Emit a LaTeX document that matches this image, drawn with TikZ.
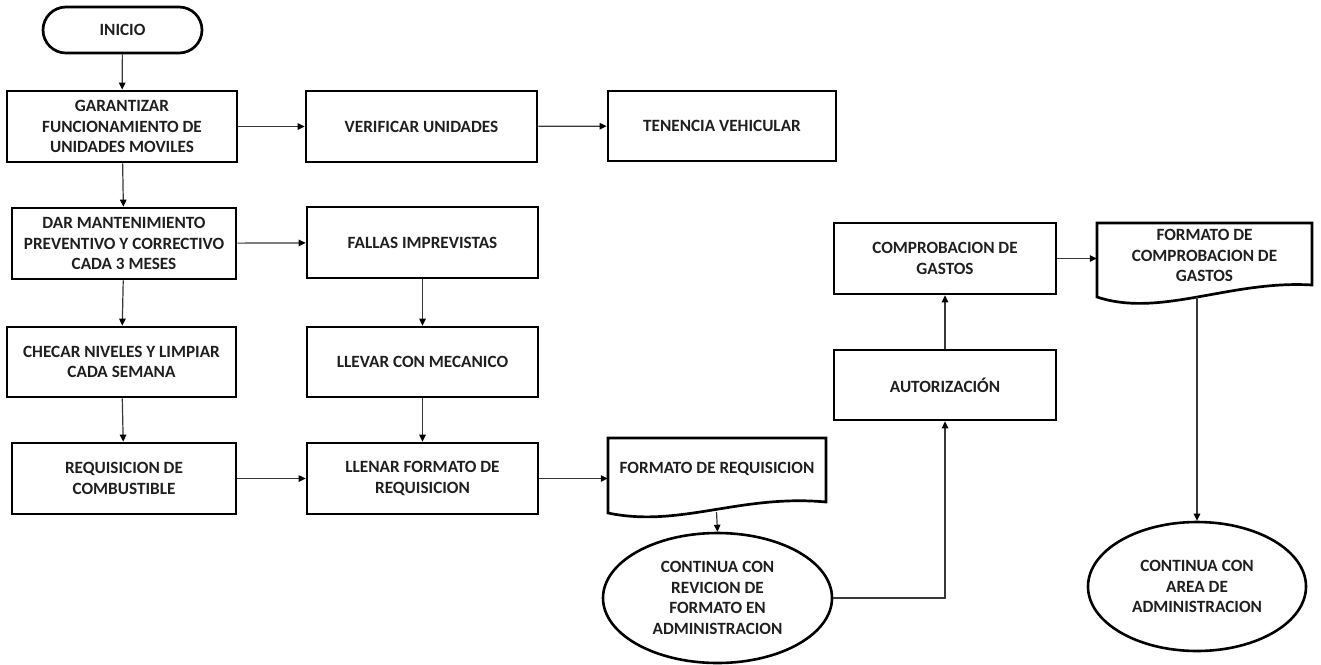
\documentclass[tikz,border=0pt]{standalone}
\usepackage{fontspec}
\setmainfont{Carlito}
\usetikzlibrary{shapes.geometric,arrows.meta}

\begin{document}
\begin{tikzpicture}[x=1pt,y=-1pt,
  txt/.style={font=\fontsize{17.2}{20.7}\selectfont\bfseries, text=black!88, align=center, inner sep=0pt},
  box/.style n args={2}{txt, draw=black, line width=2.7pt, rectangle,
    minimum width=#1, minimum height=#2},
  terminal/.style n args={2}{box={#1}{#2}, rounded corners=23pt},
  oval/.style n args={2}{txt, draw=black, line width=2.6pt, ellipse,
    minimum width=#1, minimum height=#2},
  docline/.style={draw=black, line width=2.7pt, line join=miter},
  conn/.style={draw=black!78, line width=1.2pt,
    -{Triangle[length=7pt,width=6.5pt,color=black]}}
]
\useasboundingbox (0,0) rectangle (1321,664);

% ---- process column 1 ----
\node[terminal={159}{46}] (inicio) at (122.5,30) {INICIO};
\node[box={230}{71}] (garant) at (122,126.5)
  {GARANTIZAR\\FUNCIONAMIENTO DE\\UNIDADES MOVILES};
\node[box={224}{71}] (dar) at (124,243.5)
  {DAR MANTENIMIENTO\\PREVENTIVO Y CORRECTIVO\\CADA 3 MESES};
\node[box={229}{70}] (checar) at (121.5,362)
  {CHECAR NIVELES Y LIMPIAR\\CADA SEMANA};
\node[box={224}{71}] (req) at (124,478.5)
  {REQUISICION DE\\COMBUSTIBLE};

% ---- process column 2 ----
\node[box={231}{71}] (verif) at (421.5,126.5) {VERIFICAR UNIDADES};
\node[box={231}{71}] (fallas) at (422.5,242.5) {FALLAS IMPREVISTAS};
\node[box={231}{70}] (llevar) at (422.5,362) {LLEVAR CON MECANICO};
\node[box={231}{71}] (llenar) at (422.5,478.5)
  {LLENAR FORMATO DE\\REQUISICION};

% ---- column 3 ----
\node[box={228}{70}] (tenen) at (722,126) {TENENCIA VEHICULAR};

% document: requisition form
\node[txt, minimum width=218pt] (fmtreq) at (717,469) {FORMATO DE REQUISICION};
\draw[docline] (608,438) -- (826,438) -- (826,502)
  .. controls (740,494) and (680,528) .. (608,513) -- cycle;
\coordinate (fmtreqout) at (716.5,512);

\node[oval={229}{130}] (rev) at (717.5,598)
  {CONTINUA CON\\REVICION DE\\FORMATO EN\\ADMINISTRACION};

% ---- column 4 ----
\node[box={222}{70}] (autoriz) at (945,385) {AUTORIZACIÓN};
\node[box={222}{71}] (comprob) at (945,258.5) {COMPROBACION DE\\GASTOS};

% ---- column 5 ----
\node[txt, minimum width=215pt] (fmtcomp) at (1204.5,255.5)
  {FORMATO DE\\COMPROBACION DE\\GASTOS};
\draw[docline] (1097,223) -- (1312,223) -- (1312,285)
  .. controls (1230,280) and (1160,318) .. (1097,297) -- cycle;
\coordinate (fmtcompout) at (1197,297);

\node[oval={218}{129}] (area) at (1197,586.5)
  {CONTINUA CON\\AREA DE\\ADMINISTRACION};

% ---- connectors ----
\draw[conn] (inicio) -- (garant);
\draw[conn] (garant) -- (verif);
\draw[conn] (verif) -- (tenen);
\draw[conn] (garant) -- (dar);
\draw[conn] (dar) -- (fallas);
\draw[conn] (dar) -- (checar);
\draw[conn] (fallas) -- (llevar);
\draw[conn] (checar) -- (req);
\draw[conn] (llevar) -- (llenar);
\draw[conn] (req) -- (llenar);
\draw[conn] (llenar.east) -- (fmtreq.west |- llenar.east);
\draw[conn] (fmtreqout) -- (rev.north);
\draw[conn] (rev.east) -| (autoriz.south);
\draw[conn] (autoriz) -- (comprob);
\draw[conn] (comprob.east) -- (fmtcomp.west |- comprob.east);
\draw[conn] (fmtcompout) -- (area.north);
\end{tikzpicture}
\end{document}
